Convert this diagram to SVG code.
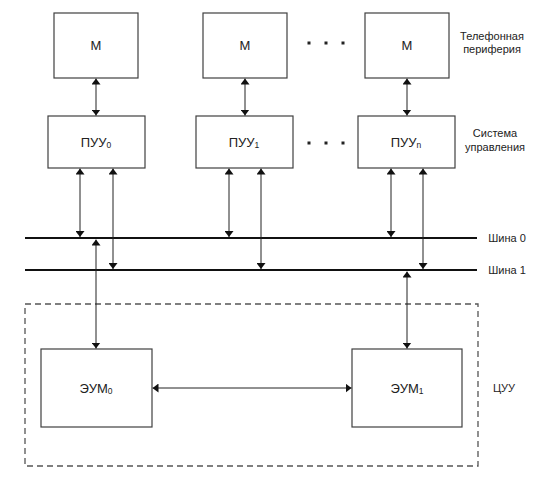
<svg xmlns="http://www.w3.org/2000/svg" width="542" height="482" viewBox="0 0 542 482">
<style>
.box{fill:#fff;stroke:#404040;stroke-width:1.2}
.t{font-family:"Liberation Sans",Arial,sans-serif;font-size:13px;fill:#222;text-anchor:middle}
.lbl{font-family:"Liberation Sans",Arial,sans-serif;font-size:11px;fill:#222;text-anchor:middle}
.sub{font-size:8.5px}
.ln{stroke:#222;stroke-width:1;fill:none}
.bus{stroke:#111;stroke-width:2.2}
.dash{fill:none;stroke:#555;stroke-width:1.3;stroke-dasharray:6,4}
.dot{fill:#222}
</style>
<defs>
<marker id="ah" viewBox="0 0 10 10" refX="10" refY="5" markerWidth="6" markerHeight="9" markerUnits="userSpaceOnUse" orient="auto-start-reverse" preserveAspectRatio="none">
<path d="M0,0 L10,5 L0,10 Z" fill="#111"/>
</marker>
</defs>
<rect x="0" y="0" width="542" height="482" fill="#fff"/>
<g id="cuu-frame">
<rect class="dash" x="25" y="304" width="453" height="162"/>
</g>
<g id="M0"><rect class="box" x="54" y="13" width="84" height="65"/><text class="t" x="96" y="50">М</text></g>
<g id="M1"><rect class="box" x="203" y="13" width="84" height="65"/><text class="t" x="245" y="50">М</text></g>
<g id="Mn"><rect class="box" x="365" y="13" width="84" height="65"/><text class="t" x="407" y="50">М</text></g>
<g id="PUU0"><rect class="box" x="48" y="116" width="97" height="52"/><text class="t" x="96" y="147">ПУУ<tspan class="sub" dy="1">0</tspan></text></g>
<g id="PUU1"><rect class="box" x="196" y="116" width="97" height="52"/><text class="t" x="244" y="147">ПУУ<tspan class="sub" dy="1">1</tspan></text></g>
<g id="PUUn"><rect class="box" x="358" y="116" width="97" height="52"/><text class="t" x="406" y="147">ПУУ<tspan class="sub" dy="1">n</tspan></text></g>
<g id="EVM0"><rect class="box" x="41" y="349" width="111" height="78"/><text class="t" x="96" y="393">ЭУМ<tspan class="sub" dy="1">0</tspan></text></g>
<g id="EVM1"><rect class="box" x="352" y="349" width="110" height="78"/><text class="t" x="407" y="393">ЭУМ<tspan class="sub" dy="1">1</tspan></text></g>
<g id="dots">
<rect class="dot" x="307.5" y="41.5" width="3" height="3"/><rect class="dot" x="324.5" y="41.5" width="3" height="3"/><rect class="dot" x="341.5" y="41.5" width="3" height="3"/>
<rect class="dot" x="307.5" y="141.5" width="3" height="3"/><rect class="dot" x="324.5" y="141.5" width="3" height="3"/><rect class="dot" x="341.5" y="141.5" width="3" height="3"/>
</g>
<g id="buses">
<line class="bus" x1="25" y1="238" x2="477" y2="238"/>
<line class="bus" x1="25" y1="270" x2="477" y2="270"/>
</g>
<g id="connectors">
<line class="ln" x1="96" y1="78.5" x2="96" y2="115.5" marker-start="url(#ah)" marker-end="url(#ah)"/>
<line class="ln" x1="245" y1="78.5" x2="245" y2="115.5" marker-start="url(#ah)" marker-end="url(#ah)"/>
<line class="ln" x1="407" y1="78.5" x2="407" y2="115.5" marker-start="url(#ah)" marker-end="url(#ah)"/>
<line class="ln" x1="80" y1="168.5" x2="80" y2="237" marker-start="url(#ah)" marker-end="url(#ah)"/>
<line class="ln" x1="113" y1="168.5" x2="113" y2="269" marker-start="url(#ah)" marker-end="url(#ah)"/>
<line class="ln" x1="229" y1="168.5" x2="229" y2="237" marker-start="url(#ah)" marker-end="url(#ah)"/>
<line class="ln" x1="261" y1="168.5" x2="261" y2="269" marker-start="url(#ah)" marker-end="url(#ah)"/>
<line class="ln" x1="391" y1="168.5" x2="391" y2="237" marker-start="url(#ah)" marker-end="url(#ah)"/>
<line class="ln" x1="423" y1="168.5" x2="423" y2="269" marker-start="url(#ah)" marker-end="url(#ah)"/>
<line class="ln" x1="96" y1="239.5" x2="96" y2="348.5" marker-start="url(#ah)" marker-end="url(#ah)"/>
<line class="ln" x1="407" y1="271.5" x2="407" y2="348.5" marker-start="url(#ah)" marker-end="url(#ah)"/>
<line class="ln" x1="152.5" y1="388" x2="351.5" y2="388" marker-start="url(#ah)" marker-end="url(#ah)"/>
</g>
<g id="labels">
<text class="lbl" x="492" y="40">Телефонная</text>
<text class="lbl" x="492" y="53">периферия</text>
<text class="lbl" x="495" y="137">Система</text>
<text class="lbl" x="495" y="151">управления</text>
<text class="lbl" x="507" y="242">Шина 0</text>
<text class="lbl" x="507" y="274">Шина 1</text>
<text class="lbl" x="504" y="392">ЦУУ</text>
</g>
</svg>
